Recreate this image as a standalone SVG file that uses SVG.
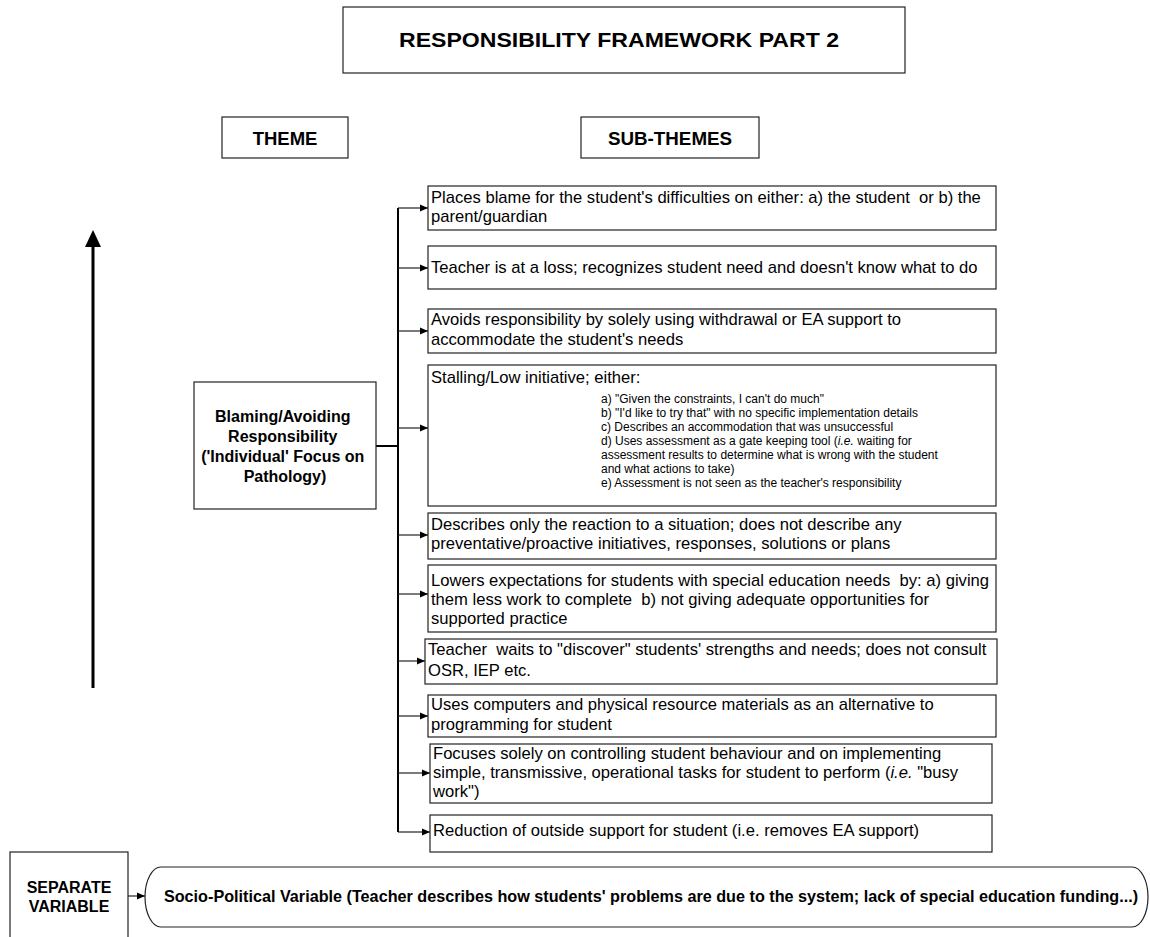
<svg xmlns="http://www.w3.org/2000/svg" width="1150" height="937" viewBox="0 0 1150 937">
<style>
.box{fill:#fff;stroke:#222;stroke-width:1.2}
.t{font-family:"Liberation Sans",Arial,sans-serif;font-size:16.6px;fill:#000}
.s{font-family:"Liberation Sans",Arial,sans-serif;font-size:12px;fill:#000}
.b{font-family:"Liberation Sans",Arial,sans-serif;font-weight:bold;fill:#000}
.br{fill:none;stroke:#222;stroke-width:1.2}
</style>
<defs>
<marker id="ah" markerWidth="9" markerHeight="9" refX="8" refY="4.5" orient="auto" markerUnits="userSpaceOnUse">
<path d="M0,1 L8,4.5 L0,8 Z" fill="#000"/>
</marker>
</defs>
<rect width="1150" height="937" fill="#fff"/>

<g id="title">
<rect class="box" x="343" y="7" width="562" height="66"/>
<text class="b" x="619" y="47" font-size="21" text-anchor="middle" textLength="440" lengthAdjust="spacingAndGlyphs">RESPONSIBILITY FRAMEWORK PART 2</text>
</g>
<g id="theme-header">
<rect class="box" x="222" y="117" width="126" height="41"/>
<text class="b" x="285" y="145" font-size="18.5" text-anchor="middle">THEME</text>
</g>
<g id="subthemes-header">
<rect class="box" x="581" y="117" width="178" height="41"/>
<text class="b" x="670" y="145" font-size="18.8" text-anchor="middle">SUB-THEMES</text>
</g>

<g id="scale-arrow">
<line x1="93" y1="688" x2="93" y2="244" stroke="#000" stroke-width="3"/>
<path d="M85,247 L93,230 L101,247 Z" fill="#000"/>
</g>

<g id="connectors">
<line x1="376" y1="446" x2="398" y2="446" stroke="#000" stroke-width="2"/>
<line x1="398" y1="208" x2="398" y2="832" stroke="#000" stroke-width="2"/>
<path class="br" d="M398,208 H428" marker-end="url(#ah)"/>
<path class="br" d="M398,268 H428" marker-end="url(#ah)"/>
<path class="br" d="M398,331 H428" marker-end="url(#ah)"/>
<path class="br" d="M398,428 H428" marker-end="url(#ah)"/>
<path class="br" d="M398,535 H428" marker-end="url(#ah)"/>
<path class="br" d="M398,594 H428" marker-end="url(#ah)"/>
<path class="br" d="M398,661 H425" marker-end="url(#ah)"/>
<path class="br" d="M398,716 H428" marker-end="url(#ah)"/>
<path class="br" d="M398,773 H430" marker-end="url(#ah)"/>
<path class="br" d="M398,832 H430" marker-end="url(#ah)"/>
<path class="br" d="M128,896 H145" marker-end="url(#ah)"/>
</g>

<g id="theme-blaming">
<rect class="box" x="194" y="382" width="182" height="127"/>
<text class="b" font-size="16" text-anchor="middle">
<tspan x="285" y="422">Blaming/Avoiding</tspan>
<tspan x="285" y="442">Responsibility</tspan>
<tspan x="285" y="462">('Individual' Focus on</tspan>
<tspan x="285" y="482">Pathology)</tspan>
</text>
</g>

<g id="sub1">
<rect class="box" x="428" y="186" width="568" height="44"/>
<text class="t"><tspan x="431" y="203">Places blame for the student's difficulties on either: a) the student&#160; or b) the</tspan><tspan x="431" y="222">parent/guardian</tspan></text>
</g>
<g id="sub2">
<rect class="box" x="428" y="246" width="568" height="43"/>
<text class="t" x="431" y="273">Teacher is at a loss; recognizes student need and doesn't know what to do</text>
</g>
<g id="sub3">
<rect class="box" x="428" y="309" width="568" height="44"/>
<text class="t"><tspan x="431" y="325">Avoids responsibility by solely using withdrawal or EA support to</tspan><tspan x="431" y="345">accommodate the student's needs</tspan></text>
</g>
<g id="sub4">
<rect class="box" x="428" y="365" width="568" height="141"/>
<text class="t" x="431" y="383">Stalling/Low initiative; either:</text>
<text class="s">
<tspan x="601" y="403">a) "Given the constraints, I can't do much"</tspan>
<tspan x="601" y="417">b) "I'd like to try that" with no specific implementation details</tspan>
<tspan x="601" y="431">c) Describes an accommodation that was unsuccessful</tspan>
<tspan x="601" y="445">d) Uses assessment as a gate keeping tool (<tspan font-style="italic">i.e.</tspan> waiting for</tspan>
<tspan x="601" y="459">assessment results to determine what is wrong with the student</tspan>
<tspan x="601" y="473">and what actions to take)</tspan>
<tspan x="601" y="487">e) Assessment is not seen as the teacher's responsibility</tspan>
</text>
</g>
<g id="sub5">
<rect class="box" x="428" y="513" width="568" height="46"/>
<text class="t"><tspan x="431" y="530">Describes only the reaction to a situation; does not describe any</tspan><tspan x="431" y="549">preventative/proactive initiatives, responses, solutions or plans</tspan></text>
</g>
<g id="sub6">
<rect class="box" x="428" y="565" width="568" height="67"/>
<text class="t"><tspan x="431" y="586">Lowers expectations for students with special education needs&#160; by: a) giving</tspan><tspan x="431" y="605">them less work to complete&#160; b) not giving adequate opportunities for</tspan><tspan x="431" y="624">supported practice</tspan></text>
</g>
<g id="sub7">
<rect class="box" x="425" y="639" width="572" height="45"/>
<text class="t"><tspan x="428" y="655">Teacher&#160; waits to "discover" students' strengths and needs; does not consult</tspan><tspan x="428" y="676">OSR, IEP etc.</tspan></text>
</g>
<g id="sub8">
<rect class="box" x="428" y="695" width="568" height="42"/>
<text class="t"><tspan x="431" y="710">Uses computers and physical resource materials as an alternative to</tspan><tspan x="431" y="730">programming for student</tspan></text>
</g>
<g id="sub9">
<rect class="box" x="430" y="744" width="562" height="59"/>
<text class="t"><tspan x="433" y="759">Focuses solely on controlling student behaviour and on implementing</tspan><tspan x="433" y="778">simple, transmissive, operational tasks for student to perform (<tspan font-style="italic">i.e.</tspan> "busy</tspan><tspan x="433" y="797">work")</tspan></text>
</g>
<g id="sub10">
<rect class="box" x="430" y="815" width="562" height="37"/>
<text class="t" x="433" y="836">Reduction of outside support for student (i.e. removes EA support)</text>
</g>

<g id="separate-variable">
<rect class="box" x="10" y="852" width="118" height="100"/>
<text class="b" font-size="16" text-anchor="middle"><tspan x="69" y="893">SEPARATE</tspan><tspan x="69" y="912">VARIABLE</tspan></text>
</g>
<g id="socio-political">
<path class="box" d="M161,867 H1132 A16,30 0 0 1 1132,927 H161 A16,30 0 0 1 161,867 Z"/>
<text class="b" x="651" y="902" font-size="16.2" text-anchor="middle">Socio-Political Variable (Teacher describes how students' problems are due to the system; lack of special education funding...)</text>
</g>
</svg>
